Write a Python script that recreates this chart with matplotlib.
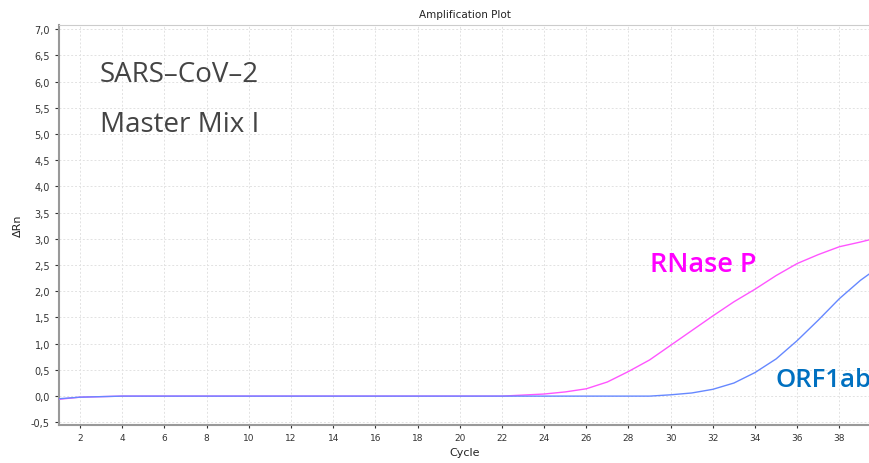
import matplotlib.pyplot as plt
from matplotlib.ticker import FuncFormatter

# cycles and delta Rn
cycles = list(range(1, 41))
rnase_p = [-0.06, -0.02, -0.01, 0.0, 0.0, 0.0, 0.0, 0.0, 0.0, 0.0,
           0.0, 0.0, 0.0, 0.0, 0.0, 0.0, 0.0, 0.0, 0.0, 0.0,
           0.0, 0.0, 0.02, 0.04, 0.08, 0.14, 0.27, 0.47, 0.69, 0.97,
           1.25, 1.53, 1.8, 2.04, 2.3, 2.53, 2.7, 2.85, 2.94, 3.04]
orf1ab = [-0.05, -0.02, -0.01, 0.0, 0.0, 0.0, 0.0, 0.0, 0.0, 0.0,
          0.0, 0.0, 0.0, 0.0, 0.0, 0.0, 0.0, 0.0, 0.0, 0.0,
          0.0, 0.0, 0.0, 0.0, 0.0, 0.0, 0.0, 0.0, 0.0, 0.025,
          0.06, 0.13, 0.25, 0.45, 0.71, 1.06, 1.45, 1.86, 2.21, 2.5]
yticks = [i * 0.5 for i in range(-1, 15)]
xticks = list(range(2, 40, 2))

fig = plt.figure(figsize=(8.7, 4.64), dpi=100)
ax = fig.add_axes([0.0678, 0.082, 0.9322, 0.862])

ax.plot(cycles, rnase_p, color='#FF55FF', lw=1.0, zorder=3)
ax.plot(cycles, orf1ab, color='#6688FF', lw=1.0, zorder=3)

ax.set_xlim(1, 39.45)
ax.set_ylim(-0.55, 7.08)
ax.set_xticks(xticks)
ax.set_yticks(yticks)
ax.yaxis.set_major_formatter(FuncFormatter(lambda v, p: ('%.1f' % v).replace('.', ',')))
ax.tick_params(labelsize=7, colors='#333333', length=3, width=0.8)
ax.tick_params(axis='x', labelsize=6.5, length=2)
ax.grid(True, color='#e2e2e2', linestyle=(0, (2, 2)), lw=0.7)

for s in ['left', 'bottom']:
    ax.spines[s].set_color('#999999')
    ax.spines[s].set_linewidth(1.5)
ax.spines['top'].set_color('#cccccc')
ax.spines['right'].set_visible(False)

ax.set_title('Amplification Plot', fontsize=7.5, color='#222222', pad=6)
ax.set_xlabel('Cycle', fontsize=8, color='#222222', labelpad=4)
ax.set_ylabel('ΔRn', fontsize=8, color='#222222', labelpad=6)

ax.text(2.95, 6.14, 'SARS–CoV–2', fontsize=20, color='#444444', va='center', family='Open Sans')
ax.text(2.95, 5.2, 'Master Mix I', fontsize=20, color='#444444', va='center', family='Open Sans')
ax.text(29.0, 2.52, 'RNase P', fontsize=19.5, color='#FF00FF', va='center', family='Open Sans', weight='semibold')
ax.text(34.95, 0.32, 'ORF1ab', fontsize=18.5, color='#0070C0', va='center', family='Open Sans', weight='semibold')

fig.savefig('out.png', dpi=100)
